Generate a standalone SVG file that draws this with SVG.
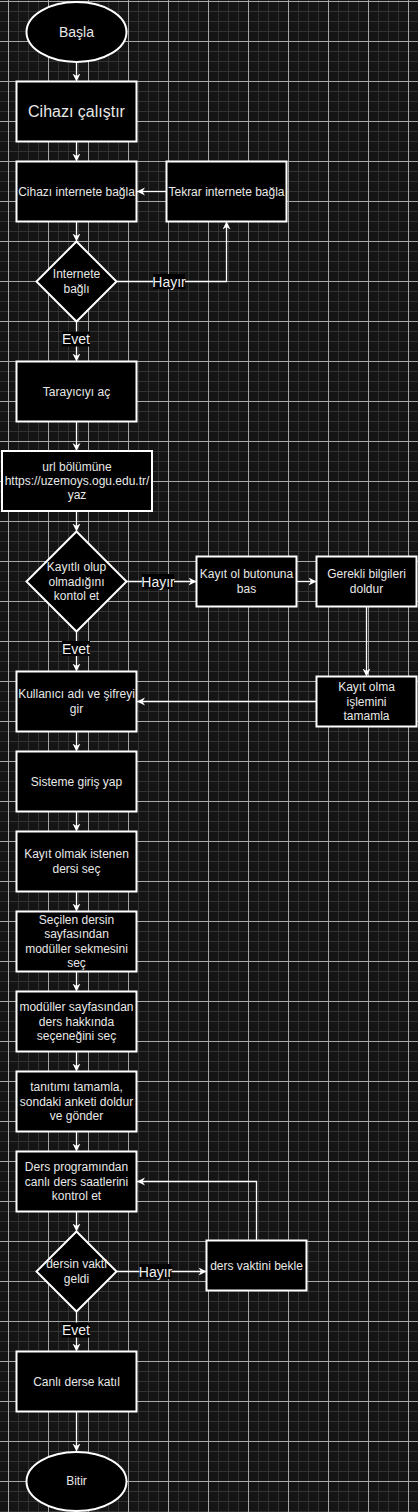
<svg xmlns="http://www.w3.org/2000/svg" width="418" height="1512" viewBox="0 0 418 1512">
<defs>
<pattern id="grid" patternUnits="userSpaceOnUse" x="8" y="1" width="40" height="40">
<rect width="40" height="40" fill="#141414"/>
<g fill="#333333">
<rect x="10" y="0" width="1" height="40"/><rect x="20" y="0" width="1" height="40"/><rect x="30" y="0" width="1" height="40"/>
<rect x="0" y="10" width="40" height="1"/><rect x="0" y="20" width="40" height="1"/><rect x="0" y="30" width="40" height="1"/>
</g>
<g fill="#a8a8a8">
<rect x="0" y="0" width="1" height="40"/><rect x="0" y="0" width="40" height="1"/>
</g>
</pattern>
<marker id="arr" markerUnits="userSpaceOnUse" markerWidth="10" markerHeight="10" refX="8" refY="4" orient="auto">
<path d="M0,0 L8,4 L0,8 L2.5,4 Z" fill="#ffffff"/>
</marker>
</defs>
<style>
.n{fill:#000000;stroke:#ffffff;stroke-width:2}
.t{font-family:"Liberation Sans",Arial,sans-serif;font-size:12px;fill:#e8e8e8;text-anchor:middle;dominant-baseline:central}
.c{fill:none;stroke:#ffffff;stroke-width:1.3}
.lb{fill:#000000}
.l{font-family:"Liberation Sans",Arial,sans-serif;font-size:14px;fill:#f0f0f0;text-anchor:middle;dominant-baseline:central}
</style>
<rect width="418" height="1512" fill="url(#grid)"/>

<g id="connectors">
<path class="c" d="M76.5,62 V81.5" marker-end="url(#arr)"/>
<path class="c" d="M76.5,141.5 V161.5" marker-end="url(#arr)"/>
<path class="c" d="M76.5,221.5 V241.5" marker-end="url(#arr)"/>
<path class="c" d="M166.5,191.5 H137" marker-end="url(#arr)"/>
<path class="c" d="M116.5,281.5 H226.5 V221.5" marker-end="url(#arr)"/>
<path class="c" d="M76.5,321.5 V361.5" marker-end="url(#arr)"/>
<path class="c" d="M76.5,421.5 V451" marker-end="url(#arr)"/>
<path class="c" d="M76.5,511.5 V531.5" marker-end="url(#arr)"/>
<path class="c" d="M126.5,581.5 H196.5" marker-end="url(#arr)"/>
<path class="c" d="M296.5,581.5 H316.5" marker-end="url(#arr)"/>
<path class="c" d="M366.5,606.5 V676.5" marker-end="url(#arr)"/>
<path class="c" d="M316.5,701.5 H137" marker-end="url(#arr)"/>
<path class="c" d="M76.5,631.5 V671.5" marker-end="url(#arr)"/>
<path class="c" d="M76.5,731.5 V751.5" marker-end="url(#arr)"/>
<path class="c" d="M76.5,811.5 V831.5" marker-end="url(#arr)"/>
<path class="c" d="M76.5,891.5 V911.5" marker-end="url(#arr)"/>
<path class="c" d="M76.5,971.5 V991.5" marker-end="url(#arr)"/>
<path class="c" d="M76.5,1051.5 V1071.5" marker-end="url(#arr)"/>
<path class="c" d="M76.5,1131.5 V1151.5" marker-end="url(#arr)"/>
<path class="c" d="M76.5,1211.5 V1231.5" marker-end="url(#arr)"/>
<path class="c" d="M116.5,1271.5 H206.5" marker-end="url(#arr)"/>
<path class="c" d="M256.5,1240.5 V1181.5 H137" marker-end="url(#arr)"/>
<path class="c" d="M76.5,1311.5 V1351.5" marker-end="url(#arr)"/>
<path class="c" d="M76.5,1411.5 V1451.5" marker-end="url(#arr)"/>
<g id="labels">
<rect class="lb" x="153" y="274" width="32" height="15"/><text class="l" x="169" y="281.5">Hayır</text>
<rect class="lb" x="62" y="331.5" width="28" height="15"/><text class="l" x="76" y="339">Evet</text>
<rect class="lb" x="142" y="574" width="32" height="15"/><text class="l" x="158" y="581.5">Hayır</text>
<rect class="lb" x="62" y="641" width="28" height="15"/><text class="l" x="76" y="648.5">Evet</text>
<rect class="lb" x="139.5" y="1264" width="32" height="15"/><text class="l" x="155.5" y="1271.5">Hayır</text>
<rect class="lb" x="62" y="1322.5" width="28" height="15"/><text class="l" x="76" y="1330">Evet</text>
</g>
</g>

<g id="start"><ellipse class="n" cx="76.5" cy="32" rx="50" ry="30"/><text class="t" x="76.5" y="32" style="font-size:14px">Başla</text></g>
<g id="cihazi-calistir"><rect class="n" x="16.5" y="81.5" width="120" height="60"/><text class="t" x="76.5" y="111.5" style="font-size:16px">Cihazı çalıştır</text></g>
<g id="cihazi-internete"><rect class="n" x="16.5" y="161.5" width="120" height="60"/><text class="t" x="76.5" y="191.5">Cihazı internete bağla</text></g>
<g id="tekrar-internete"><rect class="n" x="166.5" y="161.5" width="120" height="60"/><text class="t" x="226.5" y="191.5">Tekrar internete bağla</text></g>
<g id="internete-bagli"><path class="n" d="M76.5,241.5 L116.5,281.5 L76.5,321.5 L36.5,281.5 Z"/><text class="t" x="76.5" y="273.5">Internete</text><text class="t" x="76.5" y="288.5">bağlı</text></g>
<g id="tarayici"><rect class="n" x="16.5" y="361.5" width="120" height="60"/><text class="t" x="76.5" y="391.5">Tarayıcıyı aç</text></g>
<g id="url"><rect class="n" x="2" y="451" width="150" height="60"/><text class="t" x="77" y="466.6">url bölümüne</text><text class="t" x="77" y="481">https://uzemoys.ogu.edu.tr/</text><text class="t" x="77" y="495.4">yaz</text></g>
<g id="kayitli-mi"><path class="n" d="M76.5,531.5 L126.5,581.5 L76.5,631.5 L26.5,581.5 Z"/><text class="t" x="76.5" y="567">Kayıtlı olup</text><text class="t" x="76.5" y="581.5">olmadığını</text><text class="t" x="76.5" y="596">kontol et</text></g>
<g id="kayit-ol"><rect class="n" x="196.5" y="556.5" width="100" height="50"/><text class="t" x="246.5" y="574">Kayıt ol butonuna</text><text class="t" x="246.5" y="589">bas</text></g>
<g id="gerekli"><rect class="n" x="316.5" y="556.5" width="100" height="50"/><text class="t" x="366.5" y="574">Gerekli bilgileri</text><text class="t" x="366.5" y="589">doldur</text></g>
<g id="kayit-olma"><rect class="n" x="316.5" y="676.5" width="100" height="50"/><text class="t" x="366.5" y="687">Kayıt olma</text><text class="t" x="366.5" y="701.5">işlemini</text><text class="t" x="366.5" y="716">tamamla</text></g>
<g id="kullanici"><rect class="n" x="16.5" y="671.5" width="120" height="60"/><text class="t" x="76.5" y="694">Kullanıcı adı ve şifreyi</text><text class="t" x="76.5" y="709">gir</text></g>
<g id="sisteme-giris"><rect class="n" x="16.5" y="751.5" width="120" height="60"/><text class="t" x="76.5" y="781.5">Sisteme giriş yap</text></g>
<g id="ders-sec"><rect class="n" x="16.5" y="831.5" width="120" height="60"/><text class="t" x="76.5" y="854">Kayıt olmak istenen</text><text class="t" x="76.5" y="869">dersi seç</text></g>
<g id="moduller-sekme"><rect class="n" x="16.5" y="911.5" width="120" height="60"/><text class="t" x="76.5" y="920">Seçilen dersin</text><text class="t" x="76.5" y="934.4">sayfasından</text><text class="t" x="76.5" y="948.8">modüller sekmesini</text><text class="t" x="76.5" y="963.2">seç</text></g>
<g id="ders-hakkinda"><rect class="n" x="16.5" y="991.5" width="120" height="60"/><text class="t" x="76.5" y="1007">modüller sayfasından</text><text class="t" x="76.5" y="1021.5">ders hakkında</text><text class="t" x="76.5" y="1036">seçeneğini seç</text></g>
<g id="tanitim"><rect class="n" x="16.5" y="1071.5" width="120" height="60"/><text class="t" x="76.5" y="1087">tanıtımı tamamla,</text><text class="t" x="76.5" y="1101.5">sondaki anketi doldur</text><text class="t" x="76.5" y="1116">ve gönder</text></g>
<g id="ders-programi"><rect class="n" x="16.5" y="1151.5" width="120" height="60"/><text class="t" x="76.5" y="1167">Ders programından</text><text class="t" x="76.5" y="1181.5">canlı ders saatlerini</text><text class="t" x="76.5" y="1196">kontrol et</text></g>
<g id="vakti-geldi"><path class="n" d="M76.5,1231.5 L116.5,1271.5 L76.5,1311.5 L36.5,1271.5 Z"/><text class="t" x="76.5" y="1264">dersin vakti</text><text class="t" x="76.5" y="1278.5">geldi</text></g>
<g id="bekle"><rect class="n" x="206.5" y="1240.5" width="100" height="50"/><text class="t" x="256.5" y="1265.5">ders vaktini bekle</text></g>
<g id="canli-ders"><rect class="n" x="16.5" y="1351.5" width="120" height="60"/><text class="t" x="76.5" y="1381.5">Canlı derse katıl</text></g>
<g id="end"><ellipse class="n" cx="76.5" cy="1481.5" rx="50" ry="29.5"/><text class="t" x="76.5" y="1481">Bitir</text></g>
</svg>
